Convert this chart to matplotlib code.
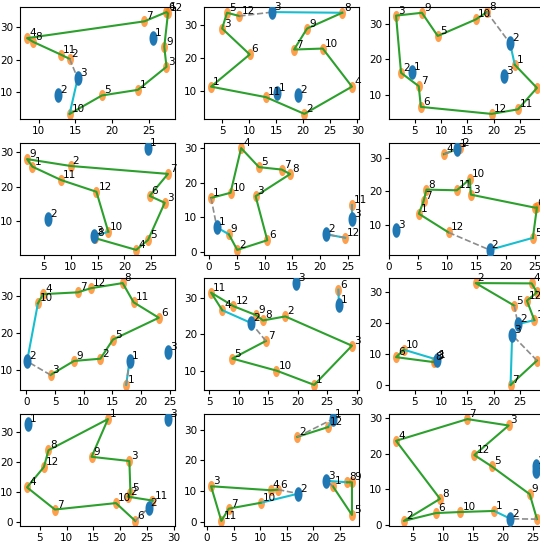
import numpy as np
import matplotlib
matplotlib.use("Agg")
import matplotlib.pyplot as plt
from matplotlib.ticker import MultipleLocator

plt.rcParams['font.family'] = ['Liberation Sans Narrow', 'DejaVu Sans']

# ---------------- data (customers 1..12 in orange, depots 1..3 in blue) -------------
p1_cx = [23.5, 14.2, 27.4, 8.4, 18.6, 27.4, 24.4, 9.2, 27.1, 14.2, 13.0, 27.6]
p1_cy = [10.8, 20.2, 17.8, 26.5, 9.1, 34.4, 31.6, 25.4, 23.9, 3.5, 21.5, 34.0]
p1_dx = [25.5, 12.6, 15.3]
p1_dy = [26.5, 9.3, 14.3]
p1_routes = [(3, [10, 5, 1, 3, 9, 12, 6, 7, 4, 8, 11, 2])]

p2_cx = [2.95, 20.2, 5.0, 29.0, 5.9, 10.1, 18.3, 27.2, 20.7, 23.6, 13.1, 8.2]
p2_cy = [11.3, 3.0, 29.0, 11.3, 33.8, 21.1, 22.6, 33.8, 29.0, 22.9, 8.1, 32.8]
p2_dx = [15.1, 19.1, 14.3]
p2_dy = [9.5, 8.8, 34.0]
p2_routes = [(3, [8, 9, 7, 10, 4, 2, 11, 1, 6, 3, 5, 12])]

p3_cx = [24.0, 2.45, 1.5, 28.2, 9.4, 6.2, 5.8, 18.7, 6.4, 16.6, 24.6, 19.6]
p3_cy = [18.5, 16.2, 32.5, 11.9, 26.7, 6.5, 12.4, 33.5, 33.3, 31.4, 5.8, 4.5]
p3_dx = [4.5, 23.1, 21.9]
p3_dy = [16.4, 24.6, 15.3]
p3_routes = [(2, [1, 4, 11, 12, 6, 7, 2, 3, 9, 5, 10, 8])]

p4_cx = [2.9, 10.0, 27.5, 22.2, 24.4, 24.7, 28.1, 14.6, 1.9, 17.0, 8.25, 14.8]
p4_cy = [25.8, 26.0, 15.3, 1.6, 4.5, 17.3, 23.7, 5.0, 28.0, 6.9, 21.9, 18.5]
p4_dx = [24.4, 5.8, 14.4]
p4_dy = [31.2, 10.6, 5.6]
p4_routes = [(3, [10, 12, 11, 1, 9, 2, 7, 6, 3, 5, 4, 8])]

p5_cx = [0.4, 5.1, 8.4, 5.8, 9.0, 10.5, 13.1, 14.6, 3.6, 3.9, 25.7, 24.5]
p5_cy = [15.6, 0.6, 16.1, 30.0, 24.5, 3.4, 23.8, 22.5, 5.1, 17.1, 13.5, 4.1]
p5_dx = [1.45, 21.1, 25.7]
p5_dy = [7.1, 5.1, 9.4]
p5_routes = [(1, [9, 2, 6, 3, 8, 7, 5, 4, 10, 1]), (2, [12]), (3, [11])]

p6_cx = [5.1, 12.1, 14.0, 9.4, 24.6, 25.0, 5.9, 6.4, 25.3, 13.8, 11.6, 10.2]
p6_cy = [13.3, 32.9, 19.0, 31.1, 6.1, 15.1, 17.0, 20.5, 15.2, 23.6, 20.3, 7.7]
p6_dx = [11.7, 17.2, 1.2]
p6_dy = [32.5, 2.5, 8.4]
p6_routes = [(2, [5, 9, 6, 3, 10, 11, 8, 7, 1, 12]), (1, [2, 4])]

p7_cx = [17.4, 12.9, 4.2, 2.9, 15.1, 23.1, 9.0, 16.8, 8.3, 2.0, 18.7, 11.2]
p7_cy = [6.0, 13.1, 8.7, 30.6, 18.3, 24.2, 31.1, 33.6, 12.5, 28.1, 28.4, 32.2]
p7_dx = [18.0, 0.1, 24.7]
p7_dy = [12.5, 12.4, 14.9]
p7_routes = [(2, [10, 4, 7, 12, 8, 11, 6, 5, 2, 9, 3]), (1, [1])]

p8_cx = [22.8, 17.9, 29.2, 7.2, 8.9, 26.9, 14.6, 14.1, 13.0, 16.4, 5.3, 9.1]
p8_cy = [6.2, 24.9, 16.9, 26.6, 13.4, 32.2, 18.2, 23.8, 25.2, 10.1, 31.4, 27.7]
p8_dx = [27.0, 12.1, 19.7]
p8_dy = [27.9, 23.1, 34.0]
p8_routes = [(2, [4, 11, 12, 9, 8, 2, 3, 1, 10, 5, 7]), (1, [6])]

p9_cx = [27.7, 16.6, 8.9, 27.2, 23.9, 1.5, 23.2, 8.6, 28.2, 3.0, 28.2, 26.3]
p9_cy = [21.0, 33.0, 7.9, 32.9, 25.7, 9.0, 0.0, 7.4, 7.9, 11.4, 30.0, 27.3]
p9_dx = [9.25, 24.6, 23.5]
p9_dy = [8.2, 19.7, 16.2]
p9_routes = [(2, [1, 12, 11, 4, 2, 5]), (3, [7, 9]), (1, [10, 6, 8, 3])]

p10_cx = [17.7, 21.4, 21.7, 2.6, 21.9, 22.8, 7.8, 6.6, 14.65, 19.2, 26.0, 5.75]
p10_cy = [34.4, 8.5, 20.4, 11.6, 9.6, 0.4, 4.2, 24.0, 21.8, 6.35, 7.2, 18.4]
p10_dx = [2.8, 25.3, 28.9]
p10_dy = [32.7, 4.8, 34.4]
p10_routes = [(2, [11, 2, 5, 3, 9, 1, 8, 12, 4, 7, 10, 6])]

p11_cx = [23.7, 17.0, 0.76, 12.0, 27.3, 13.4, 4.1, 26.4, 27.3, 10.1, 2.7, 22.8]
p11_cy = [11.6, 27.7, 11.6, 10.3, 2.25, 10.5, 4.3, 12.9, 12.9, 6.2, 0.3, 30.9]
p11_dx = [23.7, 17.2, 22.4]
p11_dy = [33.5, 9.2, 13.4]
p11_routes = [(2, [10, 7, 11, 3, 4, 6]), (3, [8, 9, 5, 1]), (1, [12, 2])]

p12_cx = [18.5, 3.5, 20.9, 2.2, 18.1, 8.8, 14.05, 9.5, 24.4, 12.9, 25.6, 15.2]
p12_cy = [3.9, 1.1, 27.9, 23.6, 16.4, 3.3, 29.7, 7.3, 8.6, 3.6, 1.6, 19.6]
p12_dx = [25.4, 21.2, 25.4]
p12_dy = [16.4, 1.7, 15.1]
p12_routes = [(2, [1, 10, 6, 2, 8, 4, 7, 3, 12, 5, 9, 11])]

panels = [
    (p1_cx, p1_cy, p1_dx, p1_dy, p1_routes),
    (p2_cx, p2_cy, p2_dx, p2_dy, p2_routes),
    (p3_cx, p3_cy, p3_dx, p3_dy, p3_routes),
    (p4_cx, p4_cy, p4_dx, p4_dy, p4_routes),
    (p5_cx, p5_cy, p5_dx, p5_dy, p5_routes),
    (p6_cx, p6_cy, p6_dx, p6_dy, p6_routes),
    (p7_cx, p7_cy, p7_dx, p7_dy, p7_routes),
    (p8_cx, p8_cy, p8_dx, p8_dy, p8_routes),
    (p9_cx, p9_cy, p9_dx, p9_dy, p9_routes),
    (p10_cx, p10_cy, p10_dx, p10_dy, p10_routes),
    (p11_cx, p11_cy, p11_dx, p11_dy, p11_routes),
    (p12_cx, p12_cy, p12_dx, p12_dy, p12_routes),
]

# ---------------- layout ----------------
W, H = 540, 549
fig = plt.figure(figsize=(W / 100, H / 100), dpi=100)
col_left = [20, 204, 389]
row_top = [7, 143, 278, 414]
ax_w, ax_h = 155, 112

t = np.linspace(0, 2 * np.pi, 41)
ell_orange = list(zip(0.62 * np.cos(t), np.sin(t)))
ell_blue = list(zip(0.55 * np.cos(t), np.sin(t)))

GREEN = '#2ca02c'
CYAN = '#17becf'
ORANGE = '#ff7f0e'
BLUE = '#1f77b4'

for k, (cx, cy, dx, dy, routes) in enumerate(panels):
    r, c = divmod(k, 3)
    left = col_left[c] / W
    bottom = 1 - (row_top[r] + ax_h) / H
    ax = fig.add_axes([left, bottom, ax_w / W, ax_h / H])

    ax.plot(cx, cy, linestyle='none', marker=ell_orange, ms=8,
            color=ORANGE, alpha=0.75, markeredgewidth=0, zorder=2)
    ax.plot(dx, dy, linestyle='none', marker=ell_blue, ms=10.5,
            color=BLUE, markeredgewidth=0, zorder=4)

    for dep, seq in routes:
        x0, y0 = dx[dep - 1], dy[dep - 1]
        px = [x0] + [cx[i - 1] for i in seq] + [x0]
        py = [y0] + [cy[i - 1] for i in seq] + [y0]
        ax.plot(px[:2], py[:2], color=CYAN, lw=1.5, zorder=3)
        if len(px) > 3:
            ax.plot(px[1:-1], py[1:-1], color=GREEN, lw=1.5, zorder=3)
        ax.plot(px[-2:], py[-2:], color='#8c8c8c', lw=1.2,
                linestyle='--', zorder=3)

    for i, (x, y) in enumerate(zip(cx, cy)):
        ax.annotate(str(i + 1), (x, y), xytext=(2, 0),
                    textcoords='offset pixels', fontsize=7.5,
                    ha='left', va='bottom', zorder=5, annotation_clip=False)
    for i, (x, y) in enumerate(zip(dx, dy)):
        ax.annotate(str(i + 1), (x, y), xytext=(2, 0),
                    textcoords='offset pixels', fontsize=7.5,
                    ha='left', va='bottom', zorder=5, annotation_clip=False)

    ax.xaxis.set_major_locator(MultipleLocator(5))
    ax.yaxis.set_major_locator(MultipleLocator(10))
    ax.tick_params(labelsize=7.5, length=3, pad=2)

fig.savefig('out.png', dpi=100)
